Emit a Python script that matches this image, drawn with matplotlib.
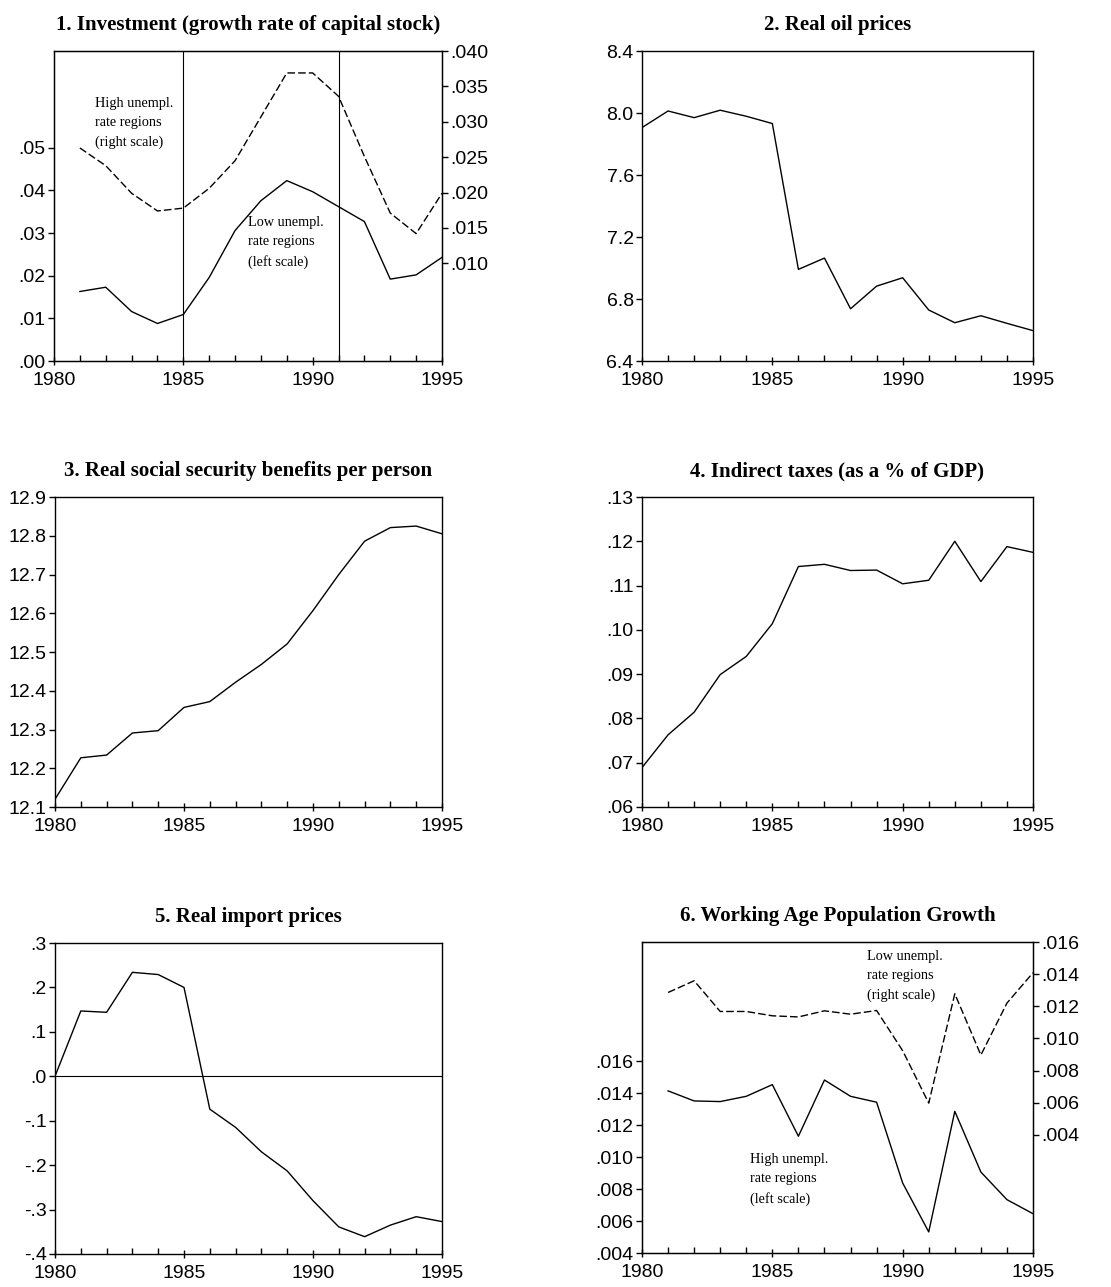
import numpy as np
import matplotlib
matplotlib.use('Agg')
import matplotlib.pyplot as plt
from matplotlib.ticker import FuncFormatter, MultipleLocator

# data
years = list(range(1980, 1996))
years_81 = list(range(1981, 1996))

inv_low = [0.0163, 0.0173, 0.0116, 0.0088, 0.0109, 0.0196, 0.0306, 0.0376, 0.0423,
           0.0397, 0.0362, 0.0327, 0.0192, 0.0202, 0.0243]
inv_high = [0.0263, 0.0238, 0.0199, 0.0174, 0.0178, 0.0206, 0.0245, 0.0307, 0.0369,
            0.0369, 0.0336, 0.0251, 0.0171, 0.0142, 0.0199]
oil = [7.906, 8.013, 7.970, 8.018, 7.979, 7.932, 6.991, 7.064, 6.737, 6.883,
       6.937, 6.729, 6.647, 6.692, 6.643, 6.596]
ssb = [12.120, 12.227, 12.234, 12.291, 12.297, 12.357, 12.372, 12.422, 12.468,
       12.521, 12.607, 12.700, 12.786, 12.821, 12.825, 12.805]
itax = [0.0689, 0.0763, 0.0814, 0.0899, 0.0940, 0.1014, 0.1143, 0.1148, 0.1134,
        0.1135, 0.1104, 0.1112, 0.1200, 0.1109, 0.1188, 0.1175]
imp = [0.000, 0.147, 0.144, 0.234, 0.229, 0.200, -0.074, -0.115, -0.170, -0.213,
       -0.280, -0.339, -0.361, -0.335, -0.316, -0.327]
pop_high = [0.01415, 0.01352, 0.01348, 0.01381, 0.01454, 0.01131, 0.01483, 0.01381,
            0.01344, 0.00838, 0.00532, 0.01287, 0.00907, 0.00734, 0.00646]
pop_low = [0.01286, 0.01359, 0.01168, 0.01168, 0.01141, 0.01134, 0.01172, 0.01151,
           0.01174, 0.00924, 0.00598, 0.01278, 0.00897, 0.01220, 0.01409]

titles = ['1. Investment (growth rate of capital stock)', '2. Real oil prices',
          '3. Real social security benefits per person', '4. Indirect taxes (as a % of GDP)',
          '5. Real import prices', '6. Working Age Population Growth']

W, H = 1111, 1287
SANS = 'Liberation Sans'
SERIF = 'Liberation Serif'
TICKSIZE = 14
DASH = (0, (5.5, 2.2))


def box(l, t, r, b):
    """pixel box -> figure fraction rect"""
    return [l / W, 1 - b / H, (r - l) / W, (b - t) / H]


def nolead(dec):
    def f(v, pos):
        s = ('%.' + str(dec) + 'f') % v
        s = s.replace('-0.', '-.')
        if s.startswith('0.'):
            s = s[1:]
        if s == '-.' + '0' * dec:
            s = '.' + '0' * dec
        return s
    return FuncFormatter(f)


def fontify(labels):
    for lab in labels:
        lab.set_fontfamily(SANS)
        lab.set_fontsize(TICKSIZE)


def style(ax, title):
    ax.set_xlim(1980, 1995)
    ax.xaxis.set_major_locator(MultipleLocator(5))
    ax.xaxis.set_minor_locator(MultipleLocator(1))
    ax.tick_params(axis='x', which='major', direction='inout', length=6, width=1, pad=5)
    ax.tick_params(axis='x', which='minor', direction='in', length=4, width=1)
    ax.tick_params(axis='y', which='major', direction='out', length=4, width=1, pad=2)
    ax.tick_params(top=False, right=False)
    fontify(ax.get_xticklabels() + ax.get_yticklabels())
    for sp in ax.spines.values():
        sp.set_linewidth(1)
    ax.set_title(title, fontfamily=SERIF, fontweight='bold', fontsize=15, pad=15)


def right_axis(ax, lo, hi, ticks, vals):
    ax2 = ax.twinx()
    ax2.plot(years_81, vals, color='k', lw=1, linestyle=DASH)
    ax2.set_ylim(lo, hi)
    ax2.set_yticks(ticks)
    ax2.yaxis.set_major_formatter(nolead(3))
    ax2.tick_params(axis='y', direction='out', length=4, width=1, pad=2)
    fontify(ax2.get_yticklabels())
    return ax2


def note(ax, x, y, s):
    ax.text(x, y, s, transform=ax.transAxes, fontfamily=SERIF, fontsize=10.3,
            va='top', ha='left', linespacing=1.62)


fig = plt.figure(figsize=(W / 100, H / 100), dpi=100)

# 1. investment
ax = fig.add_axes(box(54, 51, 442, 361))
ax.plot(years_81, inv_low, 'k-', lw=1)
ax.axvline(1985, color='k', lw=0.8)
ax.axvline(1991, color='k', lw=0.8)
ax.set_ylim(0, 0.0727)
ax.set_yticks(np.arange(0, 0.051, 0.01))
ax.yaxis.set_major_formatter(nolead(2))
style(ax, titles[0])
right_axis(ax, -0.0038, 0.040, np.arange(0.010, 0.0401, 0.005), inv_high)
note(ax, 0.106, 0.852, 'High unempl.\nrate regions\n(right scale)')
note(ax, 0.50, 0.468, 'Low unempl.\nrate regions\n(left scale)')

# 2. oil
ax = fig.add_axes(box(642, 51, 1033, 361))
ax.plot(years, oil, 'k-', lw=1)
ax.set_ylim(6.4, 8.4)
ax.set_yticks(np.arange(6.4, 8.41, 0.4))
ax.yaxis.set_major_formatter(FuncFormatter(lambda v, p: '%.1f' % v))
style(ax, titles[1])

# 3. social security
ax = fig.add_axes(box(55, 497, 442, 807))
ax.plot(years, ssb, 'k-', lw=1)
ax.set_ylim(12.1, 12.9)
ax.set_yticks(np.arange(12.1, 12.91, 0.1))
ax.yaxis.set_major_formatter(FuncFormatter(lambda v, p: '%.1f' % v))
style(ax, titles[2])

# 4. indirect taxes
ax = fig.add_axes(box(642, 497, 1033, 807))
ax.plot(years, itax, 'k-', lw=1)
ax.set_ylim(0.06, 0.13)
ax.set_yticks(np.arange(0.06, 0.131, 0.01))
ax.yaxis.set_major_formatter(nolead(2))
style(ax, titles[3])

# 5. import prices
ax = fig.add_axes(box(55, 943, 442, 1254))
ax.plot(years, imp, 'k-', lw=1)
ax.axhline(0, color='k', lw=0.8)
ax.set_ylim(-0.4, 0.3)
ax.set_yticks(np.arange(-0.4, 0.31, 0.1))
ax.yaxis.set_major_formatter(nolead(1))
style(ax, titles[4])

# 6. working age population
ax = fig.add_axes(box(642, 942, 1033, 1253))
ax.plot(years_81, pop_high, 'k-', lw=1)
ax.set_ylim(0.004, 0.02347)
ax.set_yticks(np.arange(0.004, 0.0161, 0.002))
ax.yaxis.set_major_formatter(nolead(3))
style(ax, titles[5])
right_axis(ax, -0.00334, 0.016, np.arange(0.004, 0.0161, 0.002), pop_low)
note(ax, 0.575, 0.974, 'Low unempl.\nrate regions\n(right scale)')
note(ax, 0.276, 0.322, 'High unempl.\nrate regions\n(left scale)')

fig.savefig('out.png', dpi=100)
